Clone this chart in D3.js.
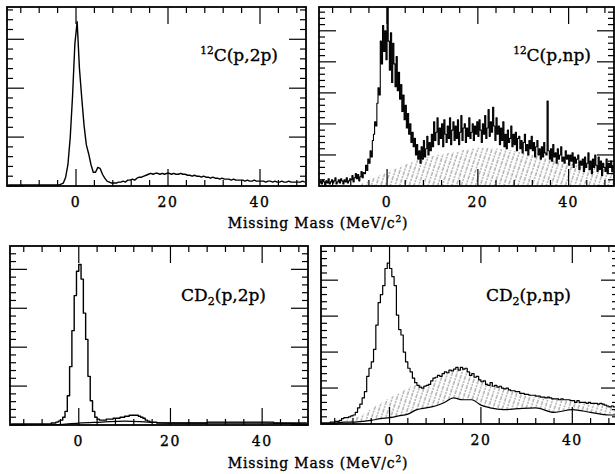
<!DOCTYPE html>
<html>
<head>
<meta charset="utf-8">
<script src="https://cdn.jsdelivr.net/npm/d3@7"></script>
<style>
  body { margin: 0; background: #fff; }
  svg { display: block; }
  text { font-family: "DejaVu Serif", "Liberation Serif", serif; fill: #000; stroke: #000; stroke-width: 0.35; }
</style>
</head>
<body>
<svg id="fig" width="615" height="474"></svg>
<script>
// missing-mass bins, 0.5 MeV wide, centres from -14.75 to 49.75
const massCenters = d3.range(-14.75, 50, 0.5);
// finer 0.25 MeV bins used by the 12C(p,np) spectrum
const fineCenters = d3.range(-14.875, 50, 0.25);

// 12C(p,2p)
const c12_2p = [1,1,1,1,1,1,1,1,1,1,1,1,1,1,1,1,1,1,1,1,1,1,1,2,
  3,9,22,50,92,145,168,120,90,62,42,33,22,14,14,19,18,12,8,5,4,3,
  3,3,4,4, 5,4,6,6, 7,6,8,9, 9,10,11,12, 13,12,13,13, 12,13,12,13,
  13,12,13,12, 12,13,12,12, 11,11,10,11, 10,10,9,10, 9,9,8,9,
  8,8,7,8, 7,7,7,6, 7,6,6,6, 6,5,6,5, 5,6,5,5, 5,5,4,5,
  5,4,5,4, 4,5,4,4, 5,4,4,4, 4,4,5,4];

// 12C(p,np), 0.25 MeV bins
const c12_np = [
  3,5,2,6,4,1,5,3,7,2,4,6,3,5,8,2,4,6,3,7,5,2,6,4,8,3,5,7,
  6,10,4,8,12,7,11,5,9,14,8,13,
  12,20,15,26,22,34,28,44,
  50,62,58,80,95,88,140,118,
  155,130,150,122, 174,140,112,148, 100,138,118,96, 125,92,110,84,
  98,72,88,64, 78,56,70,50, 60,42,52,38, 46,30,40,26,
  34,22,38,26, 44,28,36,48, 30,42,34,50, 38,62,44,52,
  66,40,56,46, 60,38,64,50, 42,58,46,66, 40,54,62,44,
  58,46,64,40, 52,68,44,56, 60,42,56,48, 66,46,52,60,
  44,58,50,62, 48,64,54,42, 60,50,68,46, 56,74,48,62,
  52,76,58,44, 66,50,58,40, 56,44,62,38, 50,36,54,42,
  46,58,38,50, 40,52,34,46, 48,36,44,32, 42,50,34,40,
  30,44,36,48, 34,42,28,38, 44,30,36,26, 38,28,42,32,
  30,82,34,26, 36,24,40,28, 32,22,36,26, 30,38,24,28,
  22,34,26,30, 20,30,24,32, 18,28,22,26, 30,16,24,20,
  26,14,28,18, 22,32,16,24, 12,26,18,30, 20,14,28,16,
  24,10,22,18, 14,26,12,22, 18,24,14,20];
// hatched background under 12C(p,np)
const c12_np_bgX = [-15,-7,-4,0,3,6,10,15,20,25,30,35,40,45,50];
const c12_np_bg  = [0,0,6,13,19,24,29,33,37,36,32,27,22,18,15];

// CD2(p,2p)
const cd2_2p = [1,1,1,1,1,1,1,1,1,1,1,1,1,1,1,1,1,1,2,2,3,4,
  5,8,14,30,60,97,133,158, 165,150,115,88,50,25,14,8,
  6,5,5,5,6,6,6,7, 7,7,8,8,9,9,10,10, 10,10,9,8,7,5,4,3,
  3,3,2,2,2,2,2,2,
  2,2,2,2,2,2,2,2,2,2, 2,2,2,2,2,2,3,3,3,3, 3,3,3,3,3,3,3,3,3,3,
  3,3,3,3,3,3,3,3,3,3, 3,3,3,3,3,2,2,2,2,2, 2,2,2,2,2,2,2,2,2,2];
const cd2_2p_bgX = [-15,-6,0,5,10,15,20,30,40,50];
const cd2_2p_bg  = [0,0,2,3,4,3,2,2,2,1];

// CD2(p,np)
const cd2_np = [1,1,1,1,2,2,3,3,4,6, 7,7,8,9,10,13, 18,22,29,36,
  53,62,69,83, 110,135,144,154,173,179, 173,164,154,121,105,99,
  80,69,62,58,51,46, 43,41,40,42,43,44, 48,51,52,54,53,56,
  58,57,60,59,61,63, 60,63,61,62,58,54, 56,52,53,49,47,48,
  44,43,46,42,43,41, 42,40,39,40,38,37, 37,36,36,34,34,33,
  33,32,32,32,31,31, 30,30,29,30,29,28, 28,28,27,28,27,27,
  27,26,26,24,26,24, 24,24,23,24,23,23, 23,22,23,22,21,20, 19,20,19,18];
// hatched band and its lower edge
const cd2_np_bandX   = [-15,-12,-10,-8,-6,-4,-2,0,2,4,6,8,10,12,14,16,18,20,22,25,28,32,36,40,44,48,50];
const cd2_np_bandTop = [1,1,3,7,10,17,23,29,34,40,44,43,49,55,60,62,57,50,44,40,36,32,29,27,24,21,19];
const cd2_np_bandLow = [1,1,2,2,3,4,6,7,9,11,16,18,20,24,29,27,27,21,18,16,17,18,13,16,13,10,10];

const xMajorTicks = [0, 20, 40];
const xAxisTitle = "Missing Mass (MeV/c";

const svg = d3.select("#fig");

const defs = svg.append("defs");
defs.append("pattern")
  .attr("id", "hatch")
  .attr("width", 4.5).attr("height", 8)
  .attr("patternUnits", "userSpaceOnUse")
  .attr("patternTransform", "rotate(18)")
  .append("line")
  .attr("x1", 1).attr("y1", 0).attr("x2", 1).attr("y2", 8)
  .attr("stroke", "#777").attr("stroke-width", 0.9)
  .attr("stroke-dasharray", "2,1");

const panels = [
  {id: "a", x: [7, 306], y: [186, 7], yMax: 183, yMajor: 50, data: c12_2p, centers: massCenters,
   curve: d3.curveLinear, lw: 1.4,
   label: [{t: "12", sup: true}, {t: "C(p,2p)"}], lx: 278, ly: 61},
  {id: "b", x: [319, 614], y: [186, 7], yMax: 173, yMajor: 30, data: c12_np, centers: fineCenters,
   curve: d3.curveStep, lw: 1.1,
   bg: {x: c12_np_bgX, top: c12_np_bg}, label: [{t: "12", sup: true}, {t: "C(p,np)"}], lx: 591, ly: 61},
  {id: "c", x: [10, 308], y: [425, 246], yMax: 184, yMajor: 40, data: cd2_2p, centers: massCenters,
   curve: d3.curveStep, lw: 1.4,
   line2: {x: cd2_2p_bgX, y: cd2_2p_bg}, label: [{t: "CD"}, {t: "2", sub: true}, {t: "(p,2p)"}], lx: 266, ly: 301},
  {id: "d", x: [321, 618], y: [424, 246], yMax: 198, yMajor: 40, data: cd2_np, centers: massCenters,
   curve: d3.curveStep, lw: 1.2,
   bg: {x: cd2_np_bandX, top: cd2_np_bandTop, low: cd2_np_bandLow},
   line2: {x: cd2_np_bandX, y: cd2_np_bandLow}, label: [{t: "CD"}, {t: "2", sub: true}, {t: "(p,np)"}], lx: 571, ly: 301}
];

panels.forEach(p => {
  const x = d3.scaleLinear().domain([-15, 50]).range(p.x);
  const y = d3.scaleLinear().domain([0, p.yMax]).range(p.y);
  const g = svg.append("g");

  defs.append("clipPath").attr("id", "clip-" + p.id)
    .append("rect")
    .attr("x", p.x[0]).attr("y", p.y[1])
    .attr("width", p.x[1] - p.x[0]).attr("height", p.y[0] - p.y[1]);
  const inner = g.append("g").attr("clip-path", `url(#clip-${p.id})`);

  if (p.bg) {
    const pts = p.bg.x.map((v, i) => ({x: v, top: p.bg.top[i], low: p.bg.low ? p.bg.low[i] : 0}));
    inner.append("path")
      .datum(pts)
      .attr("d", d3.area().x(d => x(d.x)).y0(d => y(d.low)).y1(d => y(d.top)).curve(d3.curveMonotoneX))
      .attr("fill", "url(#hatch)");
  }
  if (p.line2) {
    const pts = p.line2.x.map((v, i) => [v, p.line2.y[i]]);
    inner.append("path")
      .datum(pts)
      .attr("d", d3.line().x(d => x(d[0])).y(d => y(d[1])).curve(d3.curveMonotoneX))
      .attr("fill", "none").attr("stroke", "#000").attr("stroke-width", 1.2);
  }

  inner.append("path")
    .datum(p.data.map((v, i) => [p.centers[i], v]))
    .attr("d", d3.line().x(d => x(d[0])).y(d => y(d[1])).curve(p.curve))
    .attr("fill", "none")
    .attr("stroke", "#000")
    .attr("stroke-width", p.lw)
    .attr("stroke-linejoin", "round");

  // x ticks (bottom and top edges)
  const xt = d3.range(-12, 50, 4);
  const tk = g.append("g").attr("stroke", "#000").attr("stroke-width", 1.2);
  xt.forEach(v => {
    const len = xMajorTicks.includes(v) ? 17 : 6;
    tk.append("line").attr("x1", x(v)).attr("x2", x(v)).attr("y1", p.y[0]).attr("y2", p.y[0] - len);
    tk.append("line").attr("x1", x(v)).attr("x2", x(v)).attr("y1", p.y[1]).attr("y2", p.y[1] + len);
  });
  // y ticks (left and right edges)
  const yt = d3.range(0, p.yMax, p.yMajor / 5);
  yt.forEach((v, i) => {
    const len = i % 5 === 0 ? 17 : 6;
    tk.append("line").attr("x1", p.x[0]).attr("x2", p.x[0] + len).attr("y1", y(v)).attr("y2", y(v));
    tk.append("line").attr("x1", p.x[1]).attr("x2", p.x[1] - len).attr("y1", y(v)).attr("y2", y(v));
  });

  g.append("rect")
    .attr("x", p.x[0]).attr("y", p.y[1])
    .attr("width", p.x[1] - p.x[0]).attr("height", p.y[0] - p.y[1])
    .attr("fill", "none").attr("stroke", "#000").attr("stroke-width", 1.8);

  g.selectAll(".tl").data(xMajorTicks).enter()
    .append("text")
    .attr("x", d => x(d)).attr("y", p.y[0] + 21)
    .attr("text-anchor", "middle")
    .attr("font-size", 14)
    .attr("letter-spacing", 1.5)
    .text(d => d);

  const lab = g.append("text")
    .attr("x", p.lx).attr("y", p.ly)
    .attr("text-anchor", "end")
    .attr("font-size", 17)
    .attr("stroke-width", 0.25);
  p.label.forEach(s => {
    const ts = lab.append("tspan").text(s.t);
    if (s.sup) ts.attr("font-size", 10.5).attr("baseline-shift", "7");
    if (s.sub) ts.attr("font-size", 11).attr("baseline-shift", "-4");
  });
});

// shared axis titles
[228, 468].forEach(yy => {
  const t = svg.append("text")
    .attr("x", 318).attr("y", yy)
    .attr("text-anchor", "middle")
    .attr("font-size", 14)
    .attr("letter-spacing", 0.8);
  t.append("tspan").text(xAxisTitle);
  t.append("tspan").attr("font-size", 9).attr("baseline-shift", "6").text("2");
  t.append("tspan").text(")");
});
</script>
</body>
</html>
